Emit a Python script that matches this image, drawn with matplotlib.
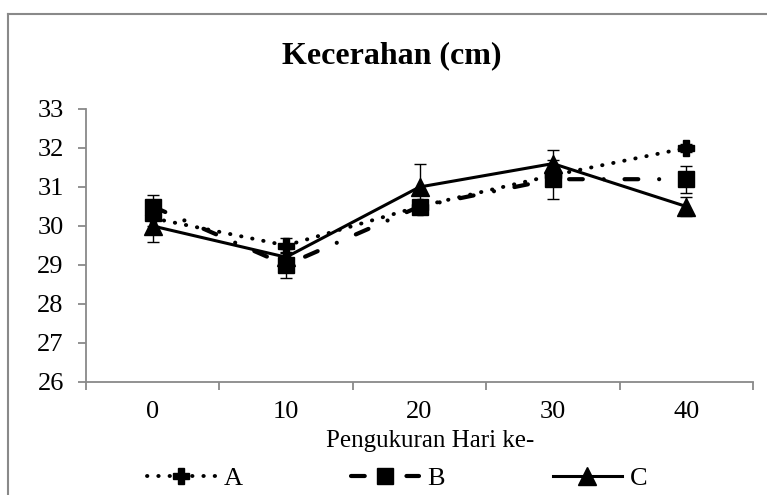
import matplotlib.pyplot as plt
from matplotlib.lines import Line2D

plt.rcParams['font.family'] = ['Liberation Serif', 'DejaVu Serif']

# data
days = ['0', '10', '20', '30', '40']
a_val = [30.2, 29.5, 30.5, 31.3, 32.0]
a_err = [0.2, 0.2, 0.15, 0.2, 0.1]
b_val = [30.5, 29.0, 30.5, 31.2, 31.2]
b_err = [0.3, 0.33, 0.15, 0.5, 0.35]
c_val = [30.0, 29.2, 31.0, 31.6, 30.5]
c_err = [0.4, 0.2, 0.6, 0.35, 0.25]

W, H = 767, 495
fig = plt.figure(figsize=(W / 100, H / 100), dpi=100)
ax = fig.add_axes([86 / W, 1 - 382 / H, (753 - 86) / W, (382 - 109) / H])

x = list(range(len(days)))
ebkw = dict(ecolor='black', elinewidth=1.0, capsize=4.5, capthick=1.0, color='black')

ea = ax.errorbar(x, a_val, yerr=a_err, marker='P', markersize=11, lw=2.8,
                 linestyle=(0, (0.1, 2.8)), dash_capstyle='round', **ebkw)
eb = ax.errorbar(x, b_val, yerr=b_err, marker='s', markersize=12, lw=3.0,
                 linestyle=(0, (3.3, 5.0, 0.01, 5.0)), dash_capstyle='round', **ebkw)
ec = ax.errorbar(x, c_val, yerr=c_err, marker='^', markersize=13, lw=2.2,
                 linestyle='-', **ebkw)

ax.set_ylim(26, 33)
ax.set_yticks(range(26, 34))
ax.set_xlim(-0.5, len(days) - 0.5)
ax.set_xticks(x)
ax.set_xticklabels(days)
ax.set_xticks([i - 0.5 for i in range(len(days) + 1)], minor=True)

gray = '#898989'
for s in ['top', 'right']:
    ax.spines[s].set_visible(False)
for s in ['left', 'bottom']:
    ax.spines[s].set_color(gray)
    ax.spines[s].set_linewidth(1.3)
ax.tick_params(axis='y', which='major', length=6, width=1.3, color=gray,
               labelsize=19, pad=10)
ax.tick_params(axis='x', which='major', length=0, labelsize=19, pad=14)
ax.tick_params(axis='x', which='minor', length=6, width=1.3, color=gray)

fig.text(392 / W, 1 - 56 / H, 'Kecerahan (cm)', ha='center', va='center',
         fontsize=23, fontweight='bold')
fig.text(430 / W, 1 - 441 / H, 'Pengukuran Hari ke-', ha='center', va='center',
         fontsize=18)

ax.legend([ea[0], eb[0], ec[0]], ['A', 'B', 'C'], loc='center',
          bbox_to_anchor=(397 / W, 1 - 478 / H),
          bbox_transform=fig.transFigure, ncol=3, frameon=False, fontsize=19,
          handlelength=2.6, handletextpad=0.3, columnspacing=4.1,
          borderpad=0, borderaxespad=0)

# chart area border (cut off at right and bottom)
fig.add_artist(Line2D([8 / W, 8 / W], [0, 1 - 14 / H], color=gray, lw=1.5,
                      transform=fig.transFigure))
fig.add_artist(Line2D([8 / W, 1], [1 - 14 / H, 1 - 14 / H], color=gray, lw=1.5,
                      transform=fig.transFigure))

fig.savefig('out.png', dpi=100)
